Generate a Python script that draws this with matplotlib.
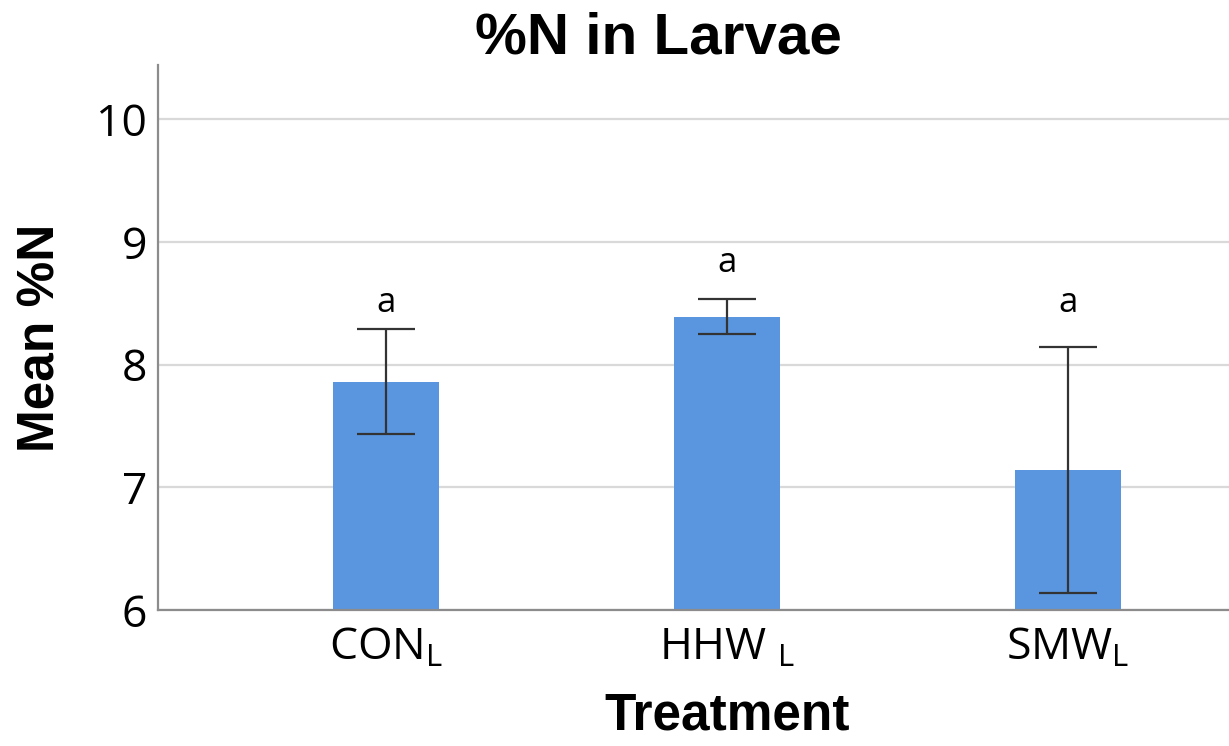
import matplotlib
matplotlib.use('Agg')
import matplotlib.pyplot as plt

# values
treatments = ['CON$_\\mathregular{L}$', 'HHW $_\\mathregular{L}$', 'SMW$_\\mathregular{L}$']
mean_n = [7.86, 8.39, 7.14]
err_low = [7.43, 8.25, 6.14]
err_high = [8.29, 8.53, 8.14]
letters = ['a', 'a', 'a']
letter_y = [8.50, 8.83, 8.50]

plt.rcParams['font.family'] = ['Open Sans', 'DejaVu Sans']
plt.rcParams['mathtext.fontset'] = 'custom'
plt.rcParams['mathtext.rm'] = 'Open Sans'
bold_font = ['Liberation Sans', 'DejaVu Sans']

fig = plt.figure(figsize=(12.29, 7.46), dpi=100)
# plot area runs past the right edge of the picture, as in the reference
ax = fig.add_axes([158 / 1229, 1 - 610 / 746, (1296 - 158) / 1229, (610 - 65) / 746])

x = list(range(len(treatments)))
yerr = [[m - lo for m, lo in zip(mean_n, err_low)],
        [hi - m for m, hi in zip(mean_n, err_high)]]

ax.bar(x, [m - 6 for m in mean_n], bottom=6, width=0.31, color='#5a96e0', zorder=2)
ax.errorbar(x, mean_n, yerr=yerr, fmt='none', ecolor='#333333', elinewidth=1.6,
            capsize=21, capthick=1.6, zorder=3)

for xi, lab, ly in zip(x, letters, letter_y):
    ax.text(xi, ly, lab, ha='center', va='center', fontsize=25)

ax.set_xlim(-0.669, 2.669)
ax.set_ylim(6, 10.44)
ax.set_yticks([6, 7, 8, 9, 10])
ax.set_xticks(x)
ax.set_xticklabels(treatments)
ax.tick_params(axis='y', length=0, labelsize=32, pad=8)
ax.tick_params(axis='x', length=0, labelsize=32, pad=12)

ax.grid(axis='y', color='#d9d9d9', linewidth=1.6, zorder=0)
ax.set_axisbelow(True)
for s in ['top', 'right']:
    ax.spines[s].set_visible(False)
for s in ['left', 'bottom']:
    ax.spines[s].set_color('#8c8c8c')
    ax.spines[s].set_linewidth(1.6)

ax.set_ylabel('Mean %N', fontsize=37, fontweight='bold', family=bold_font, labelpad=22)
ax.set_xlabel('Treatment', fontsize=37, fontweight='bold', family=bold_font, labelpad=15)
fig.text(0.536, 0.948, '%N in Larvae', ha='center', va='center', fontsize=42,
         fontweight='bold', family=bold_font)

fig.savefig('out.png', dpi=100)
